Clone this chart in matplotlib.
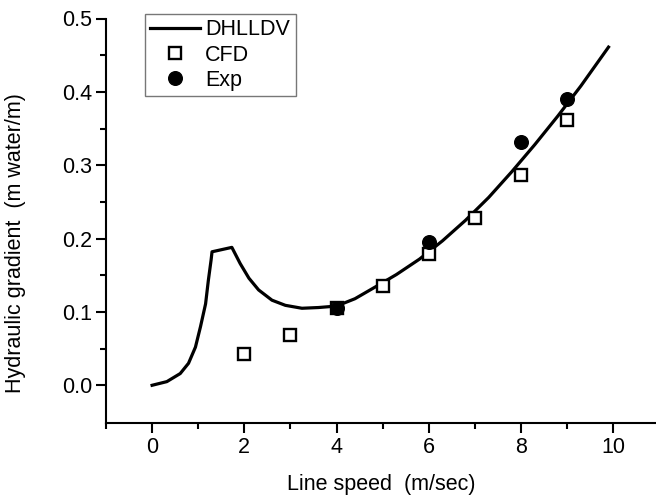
import matplotlib
matplotlib.use("Agg")
import matplotlib.pyplot as plt

plt.rcParams['font.family'] = ['Liberation Sans', 'DejaVu Sans']

# DHLLDV model curve
dhlldv_x = [0.00, 0.32, 0.61, 0.79, 0.94, 1.05, 1.16, 1.22, 1.28, 1.30,
            1.73, 1.91, 2.10, 2.31, 2.60, 2.89, 3.25, 3.61, 4.00, 4.40,
            4.84, 5.30, 5.80, 6.30, 6.80, 7.30, 7.80, 8.30, 8.80, 9.30,
            9.90]
dhlldv_y = [0.000, 0.005, 0.016, 0.030, 0.052, 0.080, 0.111, 0.143, 0.171,
            0.182, 0.188, 0.166, 0.146, 0.130, 0.116, 0.109, 0.105, 0.106,
            0.108, 0.118, 0.134, 0.151, 0.172, 0.197, 0.225, 0.256, 0.291,
            0.328, 0.367, 0.408, 0.461]

# CFD results
cfd_x = [2, 3, 4, 5, 6, 7, 8, 9]
cfd_y = [0.043, 0.068, 0.105, 0.135, 0.179, 0.228, 0.286, 0.361]

# Experimental data
exp_x = [4, 6, 8, 9]
exp_y = [0.106, 0.195, 0.331, 0.390]

fig = plt.figure(figsize=(6.56, 5.01), dpi=100)
ax = fig.add_axes([106/656, 1 - 422.7/501, 550/656, (422.7 - 18.5)/501])

ax.plot(dhlldv_x, dhlldv_y, color='black', lw=2.3, label='DHLLDV',
        solid_joinstyle='round')
ax.plot(cfd_x, cfd_y, ls='none', marker='s', ms=8.3, mfc='white', mec='black',
        mew=1.7, label='CFD')
ax.plot(exp_x, exp_y, ls='none', marker='o', ms=9.8, mfc='black', mec='black',
        label='Exp')

ax.set_xlim(-1.0, 10.93)
ax.set_ylim(-0.051, 0.5)
ax.set_xticks([0, 2, 4, 6, 8, 10])
ax.set_xticks([-1, 1, 3, 5, 7, 9], minor=True)
ax.set_yticks([0.0, 0.1, 0.2, 0.3, 0.4, 0.5])
ax.set_yticks([0.05, 0.15, 0.25, 0.35, 0.45], minor=True)
ax.set_yticklabels(['0.0', '0.1', '0.2', '0.3', '0.4', '0.5'])

for side in ('top', 'right'):
    ax.spines[side].set_visible(False)
for side in ('left', 'bottom'):
    ax.spines[side].set_linewidth(1.5)

ax.tick_params(which='major', direction='out', length=7, width=1.5,
               labelsize=15.5, pad=3)
ax.tick_params(which='minor', direction='out', length=4, width=1.5)

ax.set_xlabel('Line speed  (m/sec)', fontsize=15.5, labelpad=12)
ax.set_ylabel('Hydraulic gradient  (m water/m)', fontsize=15.5)
ax.yaxis.set_label_coords(-0.146, 0.445)

leg = ax.legend(loc='upper left', bbox_to_anchor=(145/656, 1 - 14/501),
                bbox_transform=fig.transFigure, borderaxespad=0,
                fontsize=15.5, frameon=True, fancybox=False, handlelength=2.3,
                handletextpad=0.25, labelspacing=0.2, borderpad=0.25)
leg.get_frame().set_edgecolor('#555555')
leg.get_frame().set_linewidth(1.0)

fig.savefig('out.png', dpi=100)
